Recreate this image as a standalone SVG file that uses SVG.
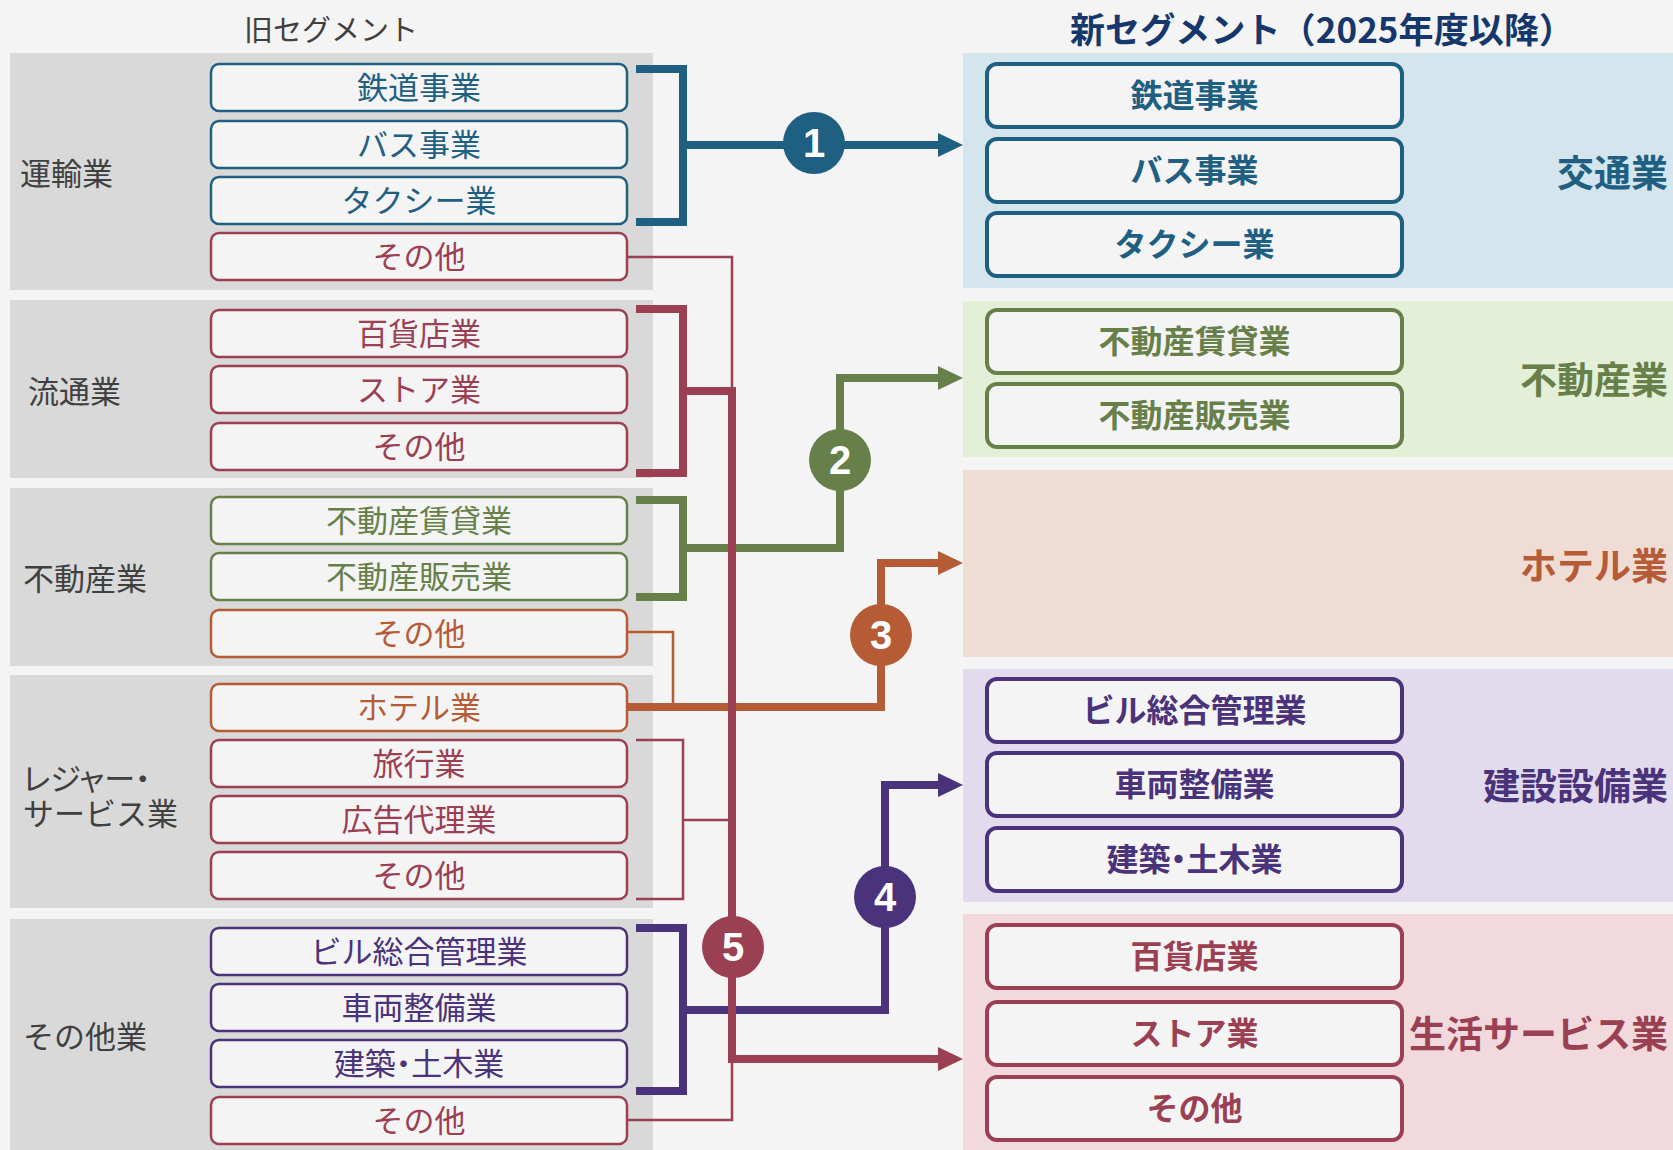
<svg xmlns="http://www.w3.org/2000/svg" width="1673" height="1150" viewBox="0 0 1673 1150">
<defs>
<style>
text{font-family:"Noto Sans CJK JP","Noto Sans",sans-serif}
.grp{fill:#d9d9d9}
.lbl{font-size:31px;fill:#404040}
.ob{fill:#f4f4f4;stroke-width:2.5}
.ot{font-size:31px;text-anchor:middle}
.nb{fill:#f4f4f4;stroke-width:4}
.nt{font-size:32px;font-weight:bold;text-anchor:middle}
.pl{font-size:37px;font-weight:bold;text-anchor:end}
.palt{font-feature-settings:"palt" 1}
.num{font-family:"Liberation Sans",Arial,sans-serif;font-size:40px;font-weight:bold;fill:#ffffff;text-anchor:middle}
.thick{fill:none;stroke-width:8}
.thin{fill:none;stroke-width:2.5}
.blue{stroke:#1f6082}.red{stroke:#9b4052}.green{stroke:#67804a}.orange{stroke:#b55b36}.purple{stroke:#4a337a}
.fblue{fill:#1f6082}.fred{fill:#9b4052}.fgreen{fill:#67804a}.forange{fill:#b55b36}.fpurple{fill:#4a337a}
</style>
<marker id="ah-blue" markerUnits="userSpaceOnUse" markerWidth="26" markerHeight="26" refX="0" refY="12" orient="auto" viewBox="0 0 26 24"><path d="M0,0 L25,12 L0,24 z" fill="#1f6082"/></marker>
<marker id="ah-green" markerUnits="userSpaceOnUse" markerWidth="26" markerHeight="26" refX="0" refY="12" orient="auto" viewBox="0 0 26 24"><path d="M0,0 L25,12 L0,24 z" fill="#67804a"/></marker>
<marker id="ah-orange" markerUnits="userSpaceOnUse" markerWidth="26" markerHeight="26" refX="0" refY="12" orient="auto" viewBox="0 0 26 24"><path d="M0,0 L25,12 L0,24 z" fill="#b55b36"/></marker>
<marker id="ah-purple" markerUnits="userSpaceOnUse" markerWidth="26" markerHeight="26" refX="0" refY="12" orient="auto" viewBox="0 0 26 24"><path d="M0,0 L25,12 L0,24 z" fill="#4a337a"/></marker>
<marker id="ah-red" markerUnits="userSpaceOnUse" markerWidth="26" markerHeight="26" refX="0" refY="12" orient="auto" viewBox="0 0 26 24"><path d="M0,0 L25,12 L0,24 z" fill="#9b4052"/></marker>
</defs>
<rect width="1673" height="1150" fill="#f4f4f4"/>

<text x="331" y="41" font-size="29" fill="#404040" text-anchor="middle">旧セグメント</text>
<text x="1322" y="43" font-size="35" font-weight="bold" fill="#15376b" text-anchor="middle" textLength="504" lengthAdjust="spacing">新セグメント（2025年度以降）</text>

<!-- old groups -->
<g id="old-unyu">
<rect class="grp" x="10" y="53" width="643" height="237"/>
<text class="lbl" x="20" y="185">運輸業</text>
</g>
<g id="old-ryutsu">
<rect class="grp" x="10" y="300" width="643" height="178"/>
<text class="lbl" x="28" y="403">流通業</text>
</g>
<g id="old-fudosan">
<rect class="grp" x="10" y="488" width="643" height="178"/>
<text class="lbl" x="23" y="590">不動産業</text>
</g>
<g id="old-leisure">
<rect class="grp" x="10" y="675" width="643" height="233"/>
<text class="lbl" x="23" y="790"><tspan class="palt">レジャー・</tspan><tspan x="23" dy="35">サービス業</tspan></text>
</g>
<g id="old-sonota">
<rect class="grp" x="10" y="919" width="643" height="231"/>
<text class="lbl" x="23" y="1048">その他業</text>
</g>

<!-- old boxes -->
<g id="o-tetsudo"><rect class="ob blue" x="211" y="64" width="416" height="47" rx="8"/><text class="ot fblue" x="419" y="99">鉄道事業</text></g>
<g id="o-bus"><rect class="ob blue" x="211" y="121" width="416" height="47" rx="8"/><text class="ot fblue" x="419" y="156">バス事業</text></g>
<g id="o-taxi"><rect class="ob blue" x="211" y="177" width="416" height="47" rx="8"/><text class="ot fblue" x="419" y="212">タクシー業</text></g>
<g id="o-unyu-other"><rect class="ob red" x="211" y="233" width="416" height="47" rx="8"/><text class="ot fred" x="419" y="268">その他</text></g>

<g id="o-dept"><rect class="ob red" x="211" y="310" width="416" height="47" rx="8"/><text class="ot fred" x="419" y="345">百貨店業</text></g>
<g id="o-store"><rect class="ob red" x="211" y="366" width="416" height="47" rx="8"/><text class="ot fred" x="419" y="401">ストア業</text></g>
<g id="o-ryutsu-other"><rect class="ob red" x="211" y="423" width="416" height="47" rx="8"/><text class="ot fred" x="419" y="458">その他</text></g>

<g id="o-chintai"><rect class="ob green" x="211" y="497" width="416" height="47" rx="8"/><text class="ot fgreen" x="419" y="532">不動産賃貸業</text></g>
<g id="o-hanbai"><rect class="ob green" x="211" y="553" width="416" height="47" rx="8"/><text class="ot fgreen" x="419" y="588">不動産販売業</text></g>
<g id="o-fudosan-other"><rect class="ob orange" x="211" y="610" width="416" height="47" rx="8"/><text class="ot forange" x="419" y="645">その他</text></g>

<g id="o-hotel"><rect class="ob orange" x="211" y="684" width="416" height="47" rx="8"/><text class="ot forange" x="419" y="719">ホテル業</text></g>
<g id="o-travel"><rect class="ob red" x="211" y="740" width="416" height="47" rx="8"/><text class="ot fred" x="419" y="775">旅行業</text></g>
<g id="o-ad"><rect class="ob red" x="211" y="796" width="416" height="47" rx="8"/><text class="ot fred" x="419" y="831">広告代理業</text></g>
<g id="o-leisure-other"><rect class="ob red" x="211" y="852" width="416" height="47" rx="8"/><text class="ot fred" x="419" y="887">その他</text></g>

<g id="o-bldg"><rect class="ob purple" x="211" y="928" width="416" height="47" rx="8"/><text class="ot fpurple" x="419" y="963">ビル総合管理業</text></g>
<g id="o-vehicle"><rect class="ob purple" x="211" y="984" width="416" height="47" rx="8"/><text class="ot fpurple" x="419" y="1019">車両整備業</text></g>
<g id="o-construct"><rect class="ob purple" x="211" y="1040" width="416" height="47" rx="8"/><text class="ot fpurple palt" x="419" y="1075">建築・土木業</text></g>
<g id="o-sonota-other"><rect class="ob red" x="211" y="1097" width="416" height="47" rx="8"/><text class="ot fred" x="419" y="1132">その他</text></g>

<!-- new panels -->
<g id="new-kotsu">
<rect x="963" y="53" width="710" height="235" fill="#d5e5ed"/>
<text class="pl fblue" x="1668" y="187">交通業</text>
</g>
<g id="new-fudosan">
<rect x="963" y="301" width="710" height="156" fill="#e3efd6"/>
<text class="pl fgreen" x="1668" y="394">不動産業</text>
</g>
<g id="new-hotel">
<rect x="963" y="470" width="710" height="187" fill="#efdcd5"/>
<text class="pl forange" x="1668" y="580">ホテル業</text>
</g>
<g id="new-kensetsu">
<rect x="963" y="669" width="710" height="233" fill="#e1dbed"/>
<text class="pl fpurple" x="1668" y="800">建設設備業</text>
</g>
<g id="new-seikatsu">
<rect x="963" y="914" width="710" height="236" fill="#f1d9dd"/>
<text class="pl fred" x="1668" y="1048">生活サービス業</text>
</g>

<!-- new boxes -->
<g id="n-tetsudo"><rect class="nb blue" x="987" y="64" width="415" height="63" rx="10"/><text class="nt fblue" x="1194.5" y="107">鉄道事業</text></g>
<g id="n-bus"><rect class="nb blue" x="987" y="139" width="415" height="63" rx="10"/><text class="nt fblue" x="1194.5" y="182">バス事業</text></g>
<g id="n-taxi"><rect class="nb blue" x="987" y="213" width="415" height="63" rx="10"/><text class="nt fblue" x="1194.5" y="256">タクシー業</text></g>

<g id="n-chintai"><rect class="nb green" x="987" y="310" width="415" height="63" rx="10"/><text class="nt fgreen" x="1194.5" y="353">不動産賃貸業</text></g>
<g id="n-hanbai"><rect class="nb green" x="987" y="384" width="415" height="63" rx="10"/><text class="nt fgreen" x="1194.5" y="427">不動産販売業</text></g>

<g id="n-bldg"><rect class="nb purple" x="987" y="679" width="415" height="63" rx="10"/><text class="nt fpurple" x="1194.5" y="722">ビル総合管理業</text></g>
<g id="n-vehicle"><rect class="nb purple" x="987" y="753" width="415" height="63" rx="10"/><text class="nt fpurple" x="1194.5" y="796">車両整備業</text></g>
<g id="n-construct"><rect class="nb purple" x="987" y="828" width="415" height="63" rx="10"/><text class="nt fpurple palt" x="1194.5" y="871">建築・土木業</text></g>

<g id="n-dept"><rect class="nb red" x="987" y="925" width="415" height="63" rx="10"/><text class="nt fred" x="1194.5" y="968">百貨店業</text></g>
<g id="n-store"><rect class="nb red" x="987" y="1002" width="415" height="63" rx="10"/><text class="nt fred" x="1194.5" y="1045">ストア業</text></g>
<g id="n-other"><rect class="nb red" x="987" y="1077" width="415" height="63" rx="10"/><text class="nt fred" x="1194.5" y="1120">その他</text></g>

<!-- connectors -->
<g id="connectors">
<path class="thick blue" d="M636,69 H683 V222 H636"/>
<path class="thick blue" d="M683,145 H938" marker-end="url(#ah-blue)"/>
<path class="thick green" d="M636,500 H683 V597 H636"/>
<path class="thick green" d="M683,548 H840 V378 H938" marker-end="url(#ah-green)"/>
<path class="thin orange" d="M627,632 H673 V707"/>
<path class="thick orange" d="M627,707 H881 V563 H938" marker-end="url(#ah-orange)"/>
<path class="thick purple" d="M636,928 H683 V1091 H636"/>
<path class="thick purple" d="M683,1010 H885 V785 H938" marker-end="url(#ah-purple)"/>
<path class="thin red" d="M627,257 H732 V391"/>
<path class="thin red" d="M636,740 H683 V899 H636"/>
<path class="thin red" d="M683,820 H732"/>
<path class="thin red" d="M627,1120 H732 V1059"/>
<path class="thick red" d="M636,309 H683 V473 H636"/>
<path class="thick red" d="M683,391 H732 V1059 H938" marker-end="url(#ah-red)"/>
</g>

<g id="badge-1"><circle cx="814" cy="143" r="31" class="fblue"/><text class="num" x="814" y="157">1</text></g>
<g id="badge-2"><circle cx="840" cy="460" r="31" class="fgreen"/><text class="num" x="840" y="474">2</text></g>
<g id="badge-3"><circle cx="881" cy="635" r="31" class="forange"/><text class="num" x="881" y="649">3</text></g>
<g id="badge-4"><circle cx="885" cy="897" r="31" class="fpurple"/><text class="num" x="885" y="911">4</text></g>
<g id="badge-5"><circle cx="733" cy="947" r="31" class="fred"/><text class="num" x="733" y="961">5</text></g>
</svg>
